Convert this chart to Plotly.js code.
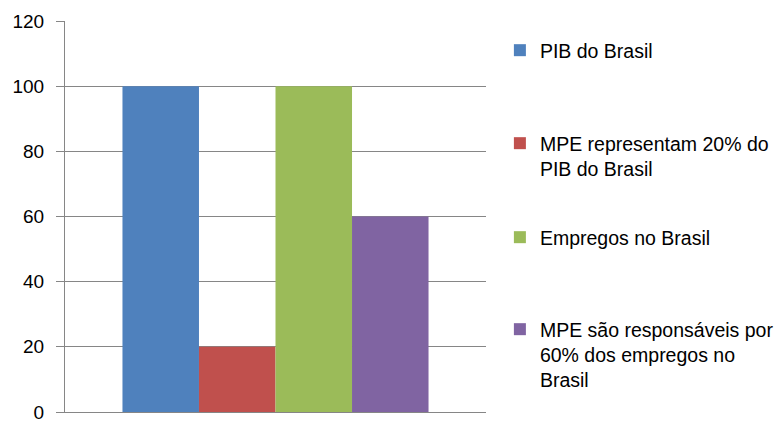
<!DOCTYPE html>
<html>
<head>
<meta charset="utf-8">
<script src="https://cdn.plot.ly/plotly-3.0.1.min.js"></script>
<style>
  html, body { margin: 0; padding: 0; background: #fff; }
  #chart { width: 774px; height: 422px; }
</style>
</head>
<body>
<div id="chart"></div>
<script>
// Single category, four grouped series
const categories = [''];
const seriesNames = [
  'PIB do Brasil',
  'MPE representam 20% do<br>PIB do Brasil',
  'Empregos no Brasil',
  'MPE são responsáveis por<br>60% dos empregos no<br>Brasil'
];
const seriesValues = [100, 20, 100, 60];
const seriesColors = ['#4F81BD', '#C0504D', '#9BBB59', '#8064A2'];
const yTicks = [0, 20, 40, 60, 80, 100, 120];

const legendIds = ['legend', 'legend2', 'legend3', 'legend4'];
// legend block tops in pixels from the top of the figure
const legendTopPx = [31, 124, 218, 310];

const traces = seriesNames.map((name, i) => ({
  type: 'bar',
  x: categories,
  y: [seriesValues[i]],
  name: name,
  marker: { color: seriesColors[i] },
  legend: legendIds[i],
  hoverinfo: 'skip'
}));

const family = 'Liberation Sans, Arial, sans-serif';
const legendFont = { family: family, size: 19.5, color: '#000' };
const margin = { l: 65, r: 288, t: 21, b: 10, pad: 0, autoexpand: false };
const plotH = 422 - margin.t - margin.b;

const layout = {
  width: 774,
  height: 422,
  margin: margin,
  paper_bgcolor: '#fff',
  plot_bgcolor: '#fff',
  font: { family: family, size: 19, color: '#000' },
  barmode: 'group',
  bargap: 0.273,
  bargroupgap: 0,
  xaxis: {
    type: 'category',
    showticklabels: false,
    ticks: '',
    showgrid: false,
    zeroline: false,
    showline: true,
    linecolor: '#868686',
    linewidth: 1
  },
  yaxis: {
    range: [0, 120],
    tickvals: yTicks,
    ticktext: yTicks.map(String),
    showgrid: true,
    gridcolor: '#868686',
    gridwidth: 1,
    zeroline: false,
    showline: true,
    linecolor: '#868686',
    linewidth: 1,
    ticks: 'outside',
    ticklen: 8,
    tickcolor: '#868686',
    ticklabelstandoff: 8,
    ticklabeloverflow: 'allow',
    tickfont: { family: family, size: 19, color: '#000' }
  },
  showlegend: true
};

legendIds.forEach((id, i) => {
  layout[id] = {
    x: 1.033,
    xanchor: 'left',
    y: (422 - margin.b - legendTopPx[i]) / plotH,
    yanchor: 'top',
    valign: 'top',
    bgcolor: 'rgba(0,0,0,0)',
    borderwidth: 0,
    font: legendFont
  };
});

Plotly.newPlot('chart', traces, layout, { displayModeBar: false, staticPlot: true });
</script>
</body>
</html>
